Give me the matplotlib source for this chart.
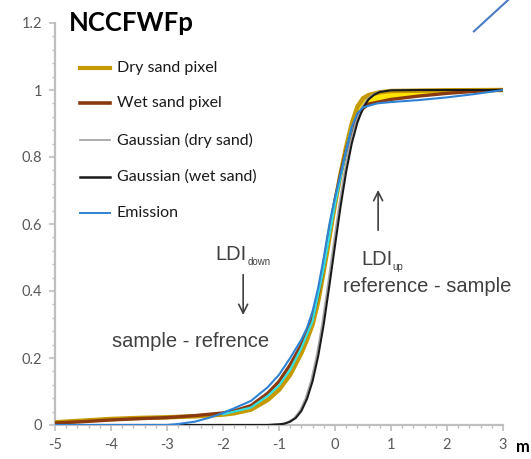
import matplotlib.pyplot as plt
from matplotlib.lines import Line2D
from matplotlib.ticker import MultipleLocator

W, H = 531, 459

# curves (x in m, y normalised)
dry_x = [-5, -4.5, -4, -3.5, -3, -2.5, -2, -1.8, -1.5, -1.2, -1.0, -0.8, -0.6, -0.5, -0.4, -0.3,
         -0.2, -0.1, 0.0, 0.1, 0.2, 0.3, 0.4, 0.5, 0.6, 0.8, 1.0, 1.5, 2.0, 3.0]
dry_y = [0.008, 0.013, 0.018, 0.021, 0.023, 0.026, 0.031, 0.035, 0.046, 0.075, 0.105, 0.15, 0.215,
         0.255, 0.30, 0.37, 0.46, 0.56, 0.66, 0.75, 0.83, 0.90, 0.95, 0.975, 0.985, 0.993, 0.997,
         0.998, 0.999, 1.0]

wet_x = [-5, -4.5, -4, -3.5, -3, -2.5, -2, -1.8, -1.5, -1.2, -1.0, -0.8, -0.6, -0.5, -0.4, -0.3,
         -0.2, -0.1, 0.0, 0.1, 0.2, 0.3, 0.4, 0.5, 0.6, 0.8, 1.0, 1.5, 2.0, 2.5, 3.0]
wet_y = [0.006, 0.010, 0.015, 0.019, 0.022, 0.028, 0.036, 0.042, 0.058, 0.095, 0.13, 0.18, 0.24,
         0.275, 0.32, 0.39, 0.48, 0.58, 0.67, 0.75, 0.82, 0.88, 0.92, 0.945, 0.958, 0.965, 0.972,
         0.982, 0.99, 0.996, 1.0]

cyan_x = [-2.0, -1.5, -1.2, -1.0, -0.8, -0.6, -0.4, -0.2, 0.0, 0.2, 0.3]
cyan_y = [0.032, 0.052, 0.087, 0.118, 0.165, 0.23, 0.31, 0.47, 0.66, 0.82, 0.89]

gauss_wet_x = [-5, -1.2, -1.0, -0.9, -0.8, -0.7, -0.6, -0.5, -0.4, -0.3, -0.2, -0.1, 0.0, 0.1,
               0.2, 0.3, 0.4, 0.5, 0.6, 0.7, 0.8, 1.0, 1.5, 3.0]
gauss_wet_y = [0.0, 0.0002, 0.002, 0.004, 0.010, 0.021, 0.042, 0.078, 0.131, 0.206, 0.302, 0.417,
               0.536, 0.653, 0.757, 0.841, 0.903, 0.946, 0.972, 0.986, 0.994, 0.999, 1.0, 1.0]

gauss_dry_x = [-5, -1.23, -1.03, -0.93, -0.83, -0.73, -0.63, -0.53, -0.43, -0.33, -0.23, -0.13,
               -0.03, 0.07, 0.17, 0.27, 0.37, 0.47, 0.57, 0.67, 0.77, 0.97, 1.5, 3.0]
gauss_dry_y = gauss_wet_y

emis_x = [-5, -3.0, -2.8, -2.5, -2.2, -2.0, -1.8, -1.5, -1.2, -1.0, -0.8, -0.6, -0.5, -0.4, -0.3,
          -0.2, -0.1, 0.0, 0.1, 0.2, 0.3, 0.4, 0.5, 0.75, 1.0, 1.5, 2.0, 2.5, 3.0]
emis_y = [0.0, 0.0, 0.003, 0.010, 0.024, 0.036, 0.05, 0.072, 0.113, 0.15, 0.20, 0.255, 0.29, 0.34,
          0.41, 0.50, 0.60, 0.68, 0.75, 0.82, 0.89, 0.93, 0.948, 0.96, 0.964, 0.97, 0.978, 0.988,
          1.0]

# stray segment in the top right corner
stray_x = [2.48, 3.1]
stray_y = [1.175, 1.27]

fill_lo = 0.3
fill_hi = 2.0

c_dry = '#C49A00'
c_wet = '#8A3A10'
c_gd = '#A6A6A6'
c_gw = '#1A1A1A'
c_em = '#2F82D3'

plt.rcParams['font.family'] = ['Lato', 'DejaVu Sans']

fig = plt.figure(figsize=(W / 100, H / 100), dpi=100)
ax = fig.add_axes([55 / W, 1 - 425 / H, (503 - 55) / W, (425 - 23) / H])

# yellow area between dry and wet sand pixels at the top
fx = [x for x in wet_x if fill_lo <= x <= fill_hi]
f_lo = [wet_y[wet_x.index(x)] for x in fx]
f_hi = [dry_y[dry_x.index(x)] for x in fx]
ax.fill_between(fx, f_lo, f_hi, color='#FFE600', lw=0, zorder=2)

ax.plot(dry_x, dry_y, color=c_dry, lw=3.2, zorder=3)
ax.plot(wet_x, wet_y, color=c_wet, lw=2.4, zorder=4)
ax.plot(cyan_x, cyan_y, color='#35E0E0', lw=1.6, zorder=5)
ax.plot(gauss_dry_x, gauss_dry_y, color=c_gd, lw=1.2, zorder=5)
ax.plot(gauss_wet_x, gauss_wet_y, color=c_gw, lw=1.5, zorder=6)
ax.plot(emis_x, emis_y, color=c_em, lw=1.5, zorder=7)
ax.plot(stray_x, stray_y, color='#4A7CC4', lw=1.5, clip_on=False)

ax.set_xlim(-5, 3)
ax.set_ylim(0, 1.2)
ax.xaxis.set_major_locator(MultipleLocator(1))
ax.xaxis.set_minor_locator(MultipleLocator(0.2))
ax.yaxis.set_major_locator(MultipleLocator(0.2))
ax.yaxis.set_minor_locator(MultipleLocator(0.04))
ax.set_yticks([0, 0.2, 0.4, 0.6, 0.8, 1.0, 1.2], ['0', '0.2', '0.4', '0.6', '0.8', '1', '1.2'])
ax.set_xticks(range(-5, 4), [str(v) for v in range(-5, 4)])

for s in ['top', 'right']:
    ax.spines[s].set_visible(False)
for s in ['left', 'bottom']:
    ax.spines[s].set_color('#BFBFBF')
    ax.spines[s].set_linewidth(1.6)
ax.tick_params(which='major', length=4.5, width=1.2, color='#BFBFBF',
               labelcolor='#595959', labelsize=10.5, pad=5)
ax.tick_params(which='minor', length=2.5, width=1.0, color='#BFBFBF')

# title, legend, labels
fig.text(69 / W, 1 - 23 / H, 'NCCFWFp', fontsize=18.5, weight='bold', va='center', ha='left')

legend = [('Dry sand pixel', c_dry, 3.0), ('Wet sand pixel', c_wet, 2.6),
          ('Gaussian (dry sand)', c_gd, 1.3), ('Gaussian (wet sand)', c_gw, 1.8),
          ('Emission', c_em, 1.4)]
for (lab, col, lw), yp in zip(legend, [68, 103, 140, 177, 213]):
    fig.add_artist(Line2D([80 / W, 110 / W], [1 - yp / H] * 2, color=col, lw=lw))
    fig.text(117 / W, 1 - yp / H, lab, fontsize=11.5, va='center', ha='left', color='#1A1A1A')

fig.text(516 / W, 1 - 447 / H, 'm', fontsize=12, weight='bold', va='center', ha='left')

arial = 'Liberation Sans'
tc = '#404040'
ax.text(-2.13, 0.51, 'LDI', family=arial, fontsize=14.5, color=tc, va='center', ha='left')
ax.text(-1.56, 0.488, 'down', family=arial, fontsize=7, color=tc, va='center', ha='left')
ax.annotate('', xy=(-1.64, 0.32), xytext=(-1.64, 0.457),
            arrowprops=dict(arrowstyle='->', color=tc, lw=1.2, mutation_scale=16))
ax.text(-3.98, 0.25, 'sample - refrence', family=arial, fontsize=14.5, color=tc,
        va='center', ha='left')

ax.text(0.47, 0.495, 'LDI', family=arial, fontsize=14.5, color=tc, va='center', ha='left')
ax.text(1.03, 0.473, 'up', family=arial, fontsize=7, color=tc, va='center', ha='left')
ax.annotate('', xy=(0.77, 0.71), xytext=(0.77, 0.573),
            arrowprops=dict(arrowstyle='->', color=tc, lw=1.2, mutation_scale=16))
ax.text(0.14, 0.413, 'reference - sample', family=arial, fontsize=14.5, color=tc,
        va='center', ha='left')

fig.savefig('out.png', dpi=100)
